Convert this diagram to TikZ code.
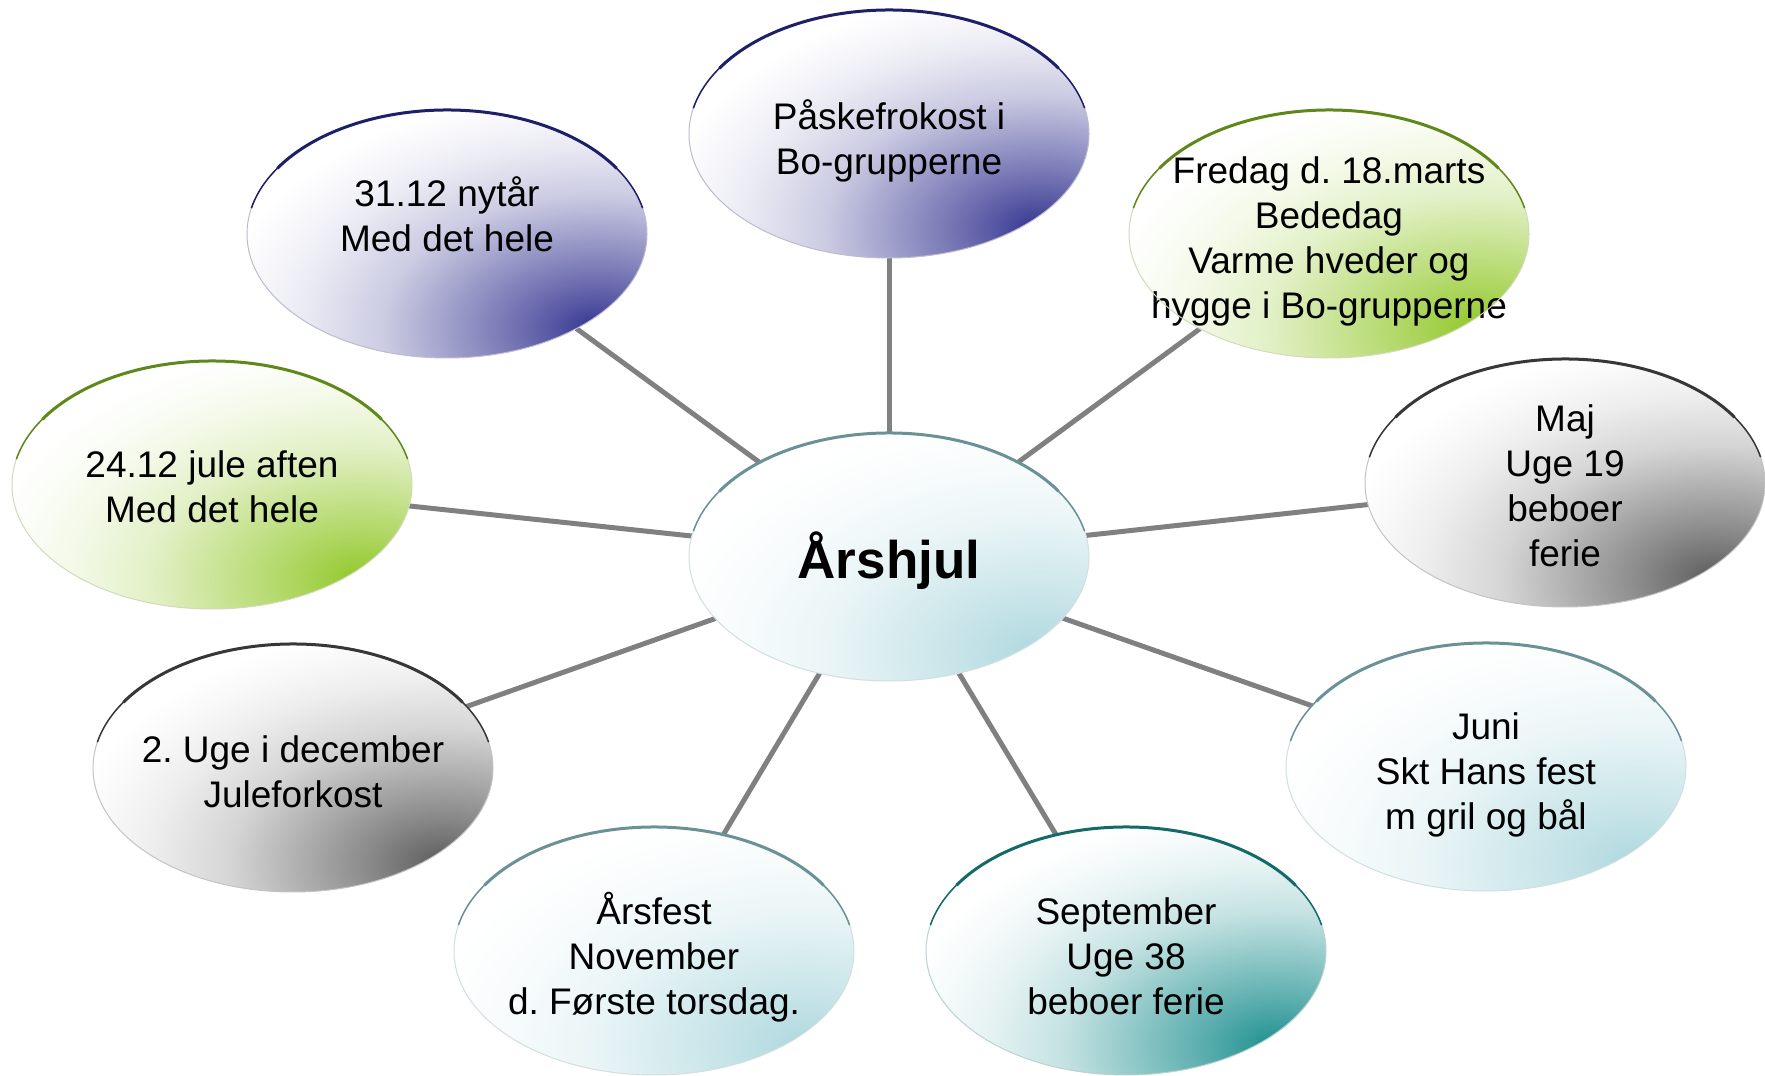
\documentclass[tikz,border=0pt]{standalone}
\usepackage{fontspec}
\setmainfont{Liberation Sans}
\usetikzlibrary{shapes.geometric,calc}
\pgfdeclarelayer{bg}
\pgfsetlayers{bg,main}
\frenchspacing

\definecolor{navyC}{RGB}{62,62,150}
\definecolor{navyB}{RGB}{30,30,105}
\definecolor{greenC}{RGB}{150,202,50}
\definecolor{greenB}{RGB}{95,135,25}
\definecolor{grayC}{RGB}{100,100,100}
\definecolor{grayB}{RGB}{55,55,55}
\definecolor{ltealC}{RGB}{178,218,224}
\definecolor{ltealB}{RGB}{105,145,150}
\definecolor{tealC}{RGB}{40,148,148}
\definecolor{tealB}{RGB}{20,105,105}
\definecolor{lineC}{RGB}{128,128,128}

\newcommand\mkbubshade[2]{%
  \pgfdeclareradialshading{#1}{\pgfpoint{0bp}{0bp}}{%
    color(0bp)=(#2); color(1bp)=(#2); color(1.7bp)=(#2!94!white);
    color(5bp)=(#2!74!white); color(10bp)=(#2!46!white);
    color(13.4bp)=(#2!27!white); color(18.3bp)=(#2!11!white);
    color(21.5bp)=(#2!4!white); color(24bp)=(white); color(50bp)=(white)}}
\mkbubshade{navyS}{navyC}
\mkbubshade{greenS}{greenC}
\mkbubshade{grayS}{grayC}
\mkbubshade{ltealS}{ltealC}
\mkbubshade{tealS}{tealC}

\newcommand\bubtop[2]{%
  \draw[#2!30!white, line width=1pt] (#1.center) ellipse [x radius=200pt, y radius=124pt];
  \draw[#2, line width=1.5pt] ($(#1.center)+(168:200pt and 124pt)$)
     arc[start angle=168, end angle=12, x radius=200pt, y radius=124pt];
  \draw[#2, line width=3pt] ($(#1.center)+(148:200pt and 124pt)$)
     arc[start angle=148, end angle=32, x radius=200pt, y radius=124pt];
}

\tikzset{
  bub/.style={ellipse, minimum width=400pt, minimum height=248pt, inner sep=0pt,
    outer sep=0pt, fill=white,
    path picture={\shade[shading=#1]
      ($(path picture bounding box.center)+(150pt,-95pt)$)
      ellipse [x radius=400pt, y radius=250pt];}},
  txt/.style={align=center, text=black, inner sep=0pt,
    font=\fontsize{37}{45}\selectfont},
  conn/.style={draw=lineC, line width=5pt},
}

\begin{document}
\begin{tikzpicture}[x=1pt, y=1pt]
\useasboundingbox (0,0) rectangle (1765,1076);

\node[bub=ltealS, label={[txt, yshift=-4pt, font=\fontsize{53}{60}\selectfont\bfseries]center:Årshjul}] (c) at (889,519) {};
\node[bub=navyS, label={[txt, yshift=-7pt]center:Påskefrokost i\\Bo-grupperne}] (pa) at (889,942) {};
\node[bub=navyS, label={[txt, yshift=20pt]center:31.12 nytår\\Med det hele}] (ny) at (447,842) {};
\node[bub=greenS, label={[txt, yshift=-7pt]center:Fredag d. 18.marts\\Bededag\\Varme hveder og\\hygge i Bo-grupperne}] (fr) at (1329,842) {};
\node[bub=greenS, label={[txt, yshift=-2pt]center:24.12 jule aften\\Med det hele}] (ja) at (212,591) {};
\node[bub=grayS, label={[txt, yshift=-3pt]center:Maj\\Uge 19\\beboer\\ferie}] (ma) at (1565,593) {};
\node[bub=grayS, label={[txt, yshift=-4pt]center:2. Uge i december\\Juleforkost}] (uc) at (293,308) {};
\node[bub=ltealS, label={[txt, yshift=-8pt]center:Juni\\Skt Hans fest\\m gril og bål}] (jn) at (1486,309) {};
\node[bub=ltealS, label={[txt, yshift=-6pt]center:Årsfest\\November\\d. Første torsdag.}] (af) at (654,125) {};
\node[bub=tealS, label={[txt, yshift=-5pt]center:September\\Uge 38\\beboer ferie}] (se) at (1126,125) {};

\begin{pgfonlayer}{bg}
\foreach \n in {pa,ny,fr,ja,ma,uc,jn,af,se}
  \draw[conn] (c) -- (\n);
\end{pgfonlayer}

\bubtop{c}{ltealB}
\bubtop{pa}{navyB}
\bubtop{ny}{navyB}
\bubtop{fr}{greenB}
\bubtop{ja}{greenB}
\bubtop{ma}{grayB}
\bubtop{uc}{grayB}
\bubtop{jn}{ltealB}
\bubtop{af}{ltealB}
\bubtop{se}{tealB}
\end{tikzpicture}
\end{document}
